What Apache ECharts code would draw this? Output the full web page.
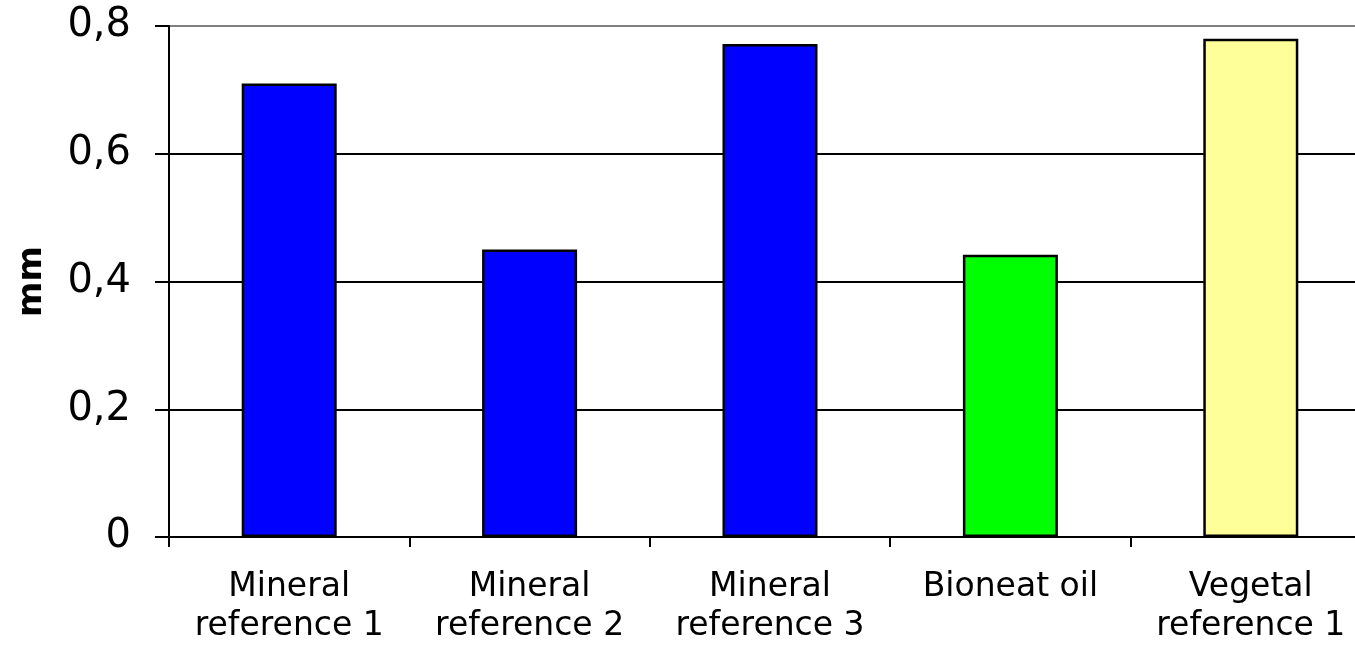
<!DOCTYPE html>
<html><head><meta charset="utf-8">
<script src="https://cdn.jsdelivr.net/npm/echarts@6/dist/echarts.min.js"></script>
<style>html,body{margin:0;padding:0;background:#fff}#c{width:1355px;height:647px}</style>
</head><body><div id="c"></div>
<script>
const categories = ['Mineral\nreference 1', 'Mineral\nreference 2', 'Mineral\nreference 3', 'Bioneat oil', 'Vegetal\nreference 1'];
const values = [0.71, 0.45, 0.772, 0.442, 0.78];
const barColors = ['#0000FF', '#0000FF', '#0000FF', '#00FF00', '#FFFF99'];
const yTicks = [0, 0.2, 0.4, 0.6, 0.8];

const chart = echarts.init(document.getElementById('c'), null, {renderer: 'canvas'});
chart.setOption({
  animation: false,
  backgroundColor: '#fff',
  textStyle: {fontFamily: 'DejaVu Sans'},
  grid: {left: 169, top: 26, width: 1202, bottom: 110, containLabel: false, outerBoundsMode: 'none'},
  xAxis: {
    type: 'category', data: categories,
    axisLine: {lineStyle: {color: '#000', width: 2}},
    axisTick: {show: true, length: 10, alignWithLabel: false, lineStyle: {color: '#000', width: 2}},
    axisLabel: {color: '#000', fontSize: 33, lineHeight: 39, margin: 31, interval: 0, fontFamily: 'DejaVu Sans'}
  },
  yAxis: {
    type: 'value', min: yTicks[0], max: yTicks[yTicks.length-1], interval: 0.2,
    name: 'mm', nameLocation: 'middle', nameGap: 120, nameRotate: 90,
    nameTextStyle: {color: '#000', fontSize: 34, fontWeight: 'bold', fontFamily: 'DejaVu Sans'},
    axisLine: {show: true, lineStyle: {color: '#000', width: 2}},
    axisTick: {show: true, length: 14, lineStyle: {color: '#000', width: 2}},
    axisLabel: {color: '#000', fontSize: 40, margin: 38, fontFamily: 'DejaVu Sans',
      formatter: v => String(Math.round(v*10)/10).replace('.', ',')},
    splitLine: {show: true, lineStyle: {color: ['#000', '#000', '#000', '#000', '#808080'], width: 2}}
  },
  series: [{
    type: 'bar', barWidth: 95,
    data: values.map((v, i) => ({value: v, itemStyle: {color: barColors[i], borderColor: '#000', borderWidth: 2.5}}))
  }]
});
</script></body></html>
